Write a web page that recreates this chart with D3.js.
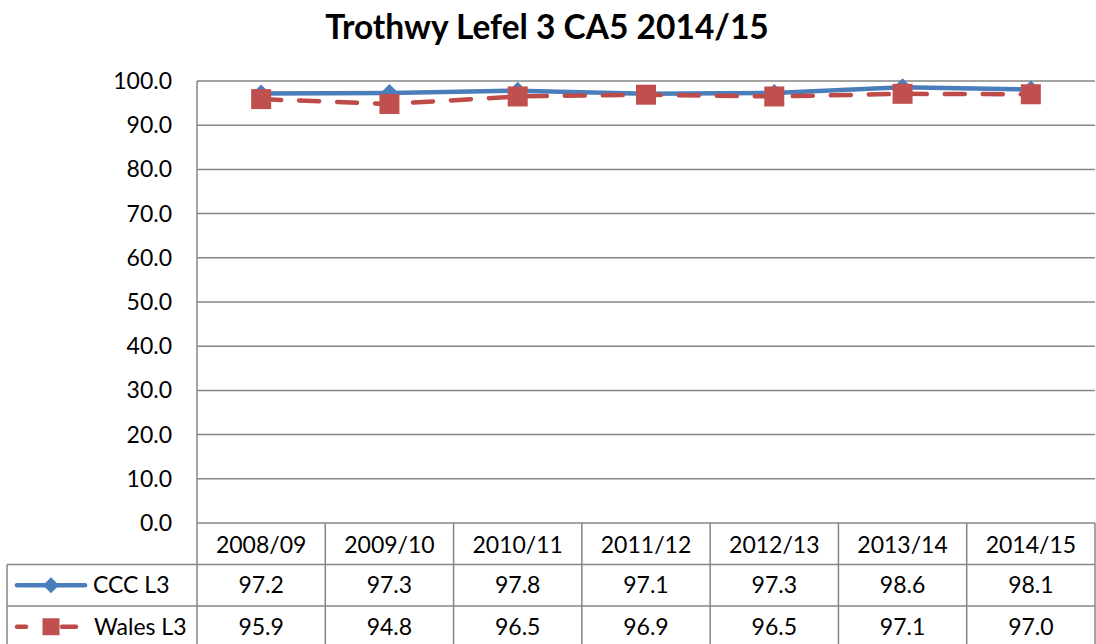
<html><head>
<script src="https://d3js.org/d3.v7.min.js"></script>
<style>
  body { margin: 0; background: #fff; }
  text { font-family: Lato, "Open Sans", sans-serif; fill: #000; }
  line.grid { stroke: #868686; stroke-width: 1.5px; }
</style>
</head>
<body>
<svg id="chart" width="1096" height="644"></svg>
<script>
  const years = ["2008/09","2009/10","2010/11","2011/12","2012/13","2013/14","2014/15"];
  const cccL3 = [97.2, 97.3, 97.8, 97.1, 97.3, 98.6, 98.1];
  const walesL3 = [95.9, 94.8, 96.5, 96.9, 96.5, 97.1, 97.0];
  const yTicks = [0,10,20,30,40,50,60,70,80,90,100];

  const series = [
    {name: "CCC L3", values: cccL3, color: "#4a7ebb", dash: null, marker: "diamond"},
    {name: "Wales L3", values: walesL3, color: "#be4b48", dash: "20,18", marker: "square"}
  ];

  const svg = d3.select("#chart");
  const plotLeft = 197, plotRight = 1095, plotTop = 81, plotBottom = 523;
  const rowH = 41.5, tableLeft = 7;

  const x = d3.scaleBand().domain(years).range([plotLeft, plotRight]);
  const y = d3.scaleLinear().domain([0, 100]).range([plotBottom, plotTop]);

  // title
  svg.append("text").attr("x", 547).attr("y", 39)
     .attr("text-anchor", "middle").style("font-size", "33.5px").style("font-weight", "bold")
     .text("Trothwy Lefel 3 CA5 2014/15");

  // gridlines + y labels
  svg.selectAll("line.grid.h").data(yTicks).join("line")
     .attr("class", "grid h")
     .attr("x1", plotLeft).attr("x2", plotRight)
     .attr("y1", d => y(d)).attr("y2", d => y(d));
  svg.selectAll("text.ylab").data(yTicks).join("text")
     .attr("class", "ylab")
     .attr("x", 172).attr("y", d => y(d) + 8)
     .attr("text-anchor", "end").style("font-size", "23px")
     .text(d => d.toFixed(1));

  // left axis
  svg.append("line").attr("class", "grid").attr("x1", plotLeft).attr("x2", plotLeft).attr("y1", plotTop).attr("y2", 644);

  // data table lines
  [1, 2, 3].forEach(i => {
    const ry = plotBottom + rowH * i;
    svg.append("line").attr("class", "grid")
       .attr("x1", tableLeft).attr("x2", plotRight)
       .attr("y1", ry).attr("y2", ry);
  });
  svg.append("line").attr("class", "grid").attr("x1", tableLeft).attr("x2", tableLeft)
     .attr("y1", plotBottom + rowH).attr("y2", 644);
  svg.selectAll("line.vcol").data(years).join("line")
     .attr("class", "grid vcol")
     .attr("x1", d => x(d) + x.bandwidth()).attr("x2", d => x(d) + x.bandwidth())
     .attr("y1", plotBottom).attr("y2", 644);

  // header labels
  svg.selectAll("text.xlab").data(years).join("text")
     .attr("class", "xlab")
     .attr("x", d => x(d) + x.bandwidth() / 2).attr("y", plotBottom + 30)
     .attr("text-anchor", "middle").style("font-size", "23px")
     .text(d => d);

  const line = d3.line().x((d, i) => x(years[i]) + x.bandwidth() / 2).y(d => y(d));

  function drawMarker(g, s, cx, cy, big) {
    if (s.marker === "diamond") {
      const r = big ? 9 : 8;
      g.append("path").attr("d", `M${cx},${cy - r}L${cx + r},${cy}L${cx},${cy + r}L${cx - r},${cy}Z`)
       .attr("fill", s.color);
    } else {
      const w = big ? 20 : 17;
      g.append("rect").attr("x", cx - w / 2).attr("y", cy - w / 2).attr("width", w).attr("height", w)
       .attr("fill", "#c0504d");
    }
  }

  series.forEach((s, si) => {
    const g = svg.append("g");
    g.append("path").datum(s.values).attr("d", line)
     .attr("fill", "none").attr("stroke", s.color).attr("stroke-width", 4.5)
     .attr("stroke-linecap", "round")
     .attr("stroke-dasharray", s.dash);
    s.values.forEach((v, i) => drawMarker(g, s, x(years[i]) + x.bandwidth() / 2, y(v), true));

    // table row with legend key
    const ry = plotBottom + rowH * (si + 1);
    const cy = ry + rowH / 2;
    const lg = svg.append("g");
    const segs = s.dash ? [[17, 26], [62, 76]] : [[17, 85]];
    segs.forEach(([a, b]) => lg.append("line").attr("x1", a).attr("x2", b).attr("y1", cy).attr("y2", cy)
      .attr("stroke", s.color).attr("stroke-width", 4.5).attr("stroke-linecap", "round"));
    drawMarker(lg, s, 51, cy, false);
    lg.append("text").attr("x", s.dash ? 94 : 93).attr("y", cy + 8)
      .style("font-size", "23px").text(s.name);
    svg.selectAll(null).data(s.values).join("text")
       .attr("x", (d, i) => x(years[i]) + x.bandwidth() / 2).attr("y", cy + 8)
       .attr("text-anchor", "middle").style("font-size", "23px")
       .text(d => d.toFixed(1));
  });
</script>
</body>
</html>
